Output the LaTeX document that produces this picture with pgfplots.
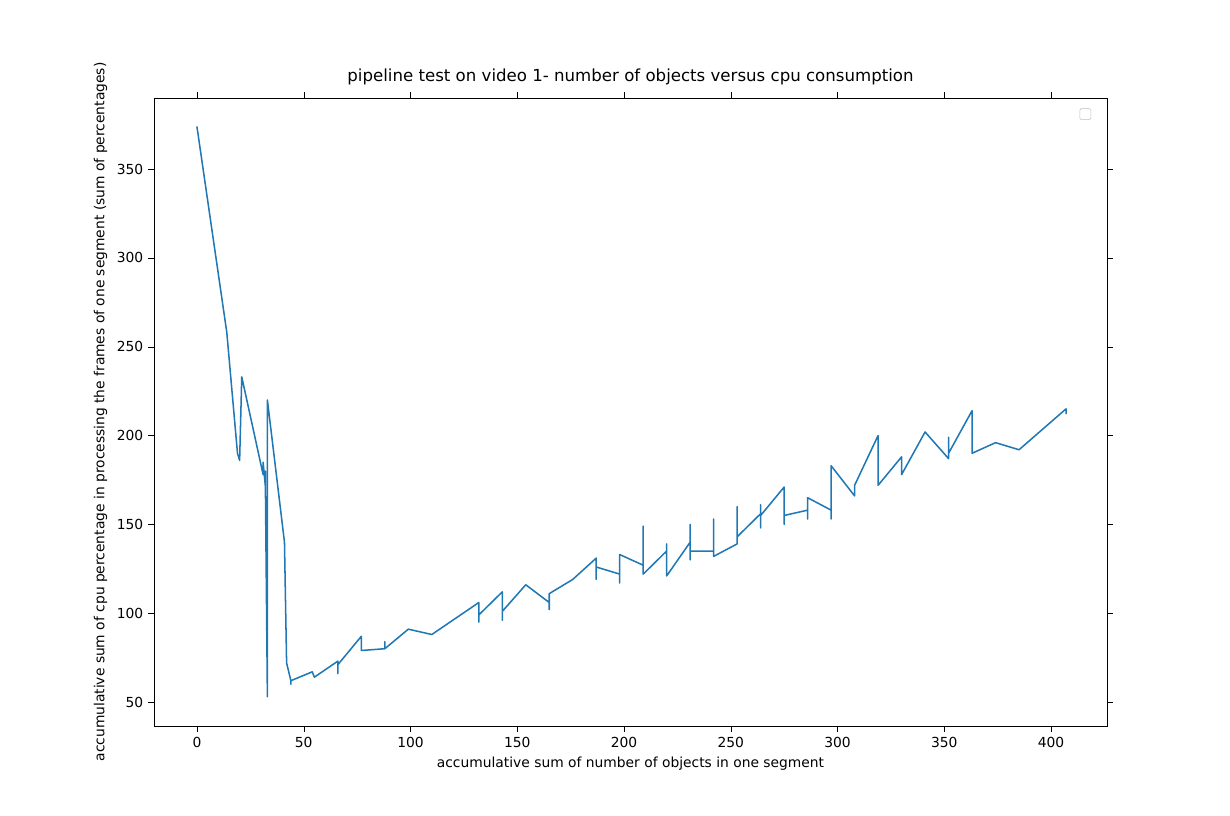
\documentclass[border=0pt]{standalone}
\usepackage{pgfplots}
\pgfplotsset{compat=1.18}
\usepackage{fontspec}
\setmainfont{DejaVu Sans}
\definecolor{c0}{HTML}{1F77B4}
\begin{document}
\begin{tikzpicture}
\path[use as bounding box] (-1.54in,-0.9in) rectangle (10.76in,7.26in);
\begin{axis}[scale only axis, width=9.53in, height=6.28in,
 xmin=-20.1, xmax=426.2, ymin=36.5, ymax=390,
 xtick={0,50,...,400}, ytick={50,100,...,350},
 tick align=outside, tick style={black}, font=\fontsize{10}{12}\selectfont,
 /pgf/number format/assume math mode=true,
 title={pipeline test on video 1- number of objects versus cpu consumption},
 title style={font=\fontsize{12}{14}\selectfont},
 xlabel={accumulative sum of number of objects in one segment},
 ylabel={accumulative sum of cpu percentage in processing the frames of one segment (sum of percentages)}]
\addplot[c0, line width=1.1pt, line join=round] coordinates {
(0,374)(14,258)(19,190)(20,186)(21,233)(23,222)(31,178)(31,185)(32,172)(32,180)(33,53)(33,220)(41,140)(42,72)(44,62)(44,60)
(44,62)(54,67)(55,64)(66,73)(66,66)(66,71)(77,87)(77,79)(88,80)(88,84)(88,80)(99,91)(110,88)(132,106)(132,95)(132,99)
(143,112)(143,96)(143,101)(154,116)(165,106)(165,102)(165,111)(176,119)(187,131)(187,119)(187,126)(198,122)(198,117)(198,133)
(209,127)(209,149)(209,122)(220,135)(220,139)(220,121)(231,140)(231,130)(231,150)(231,135)(242,135)(242,153)(242,132)
(253,139)(253,160)(253,143)(264,156)(264,161)(264,148)(264,155)(275,171)(275,150)(275,155)(286,158)(286,153)(286,165)
(297,158)(297,153)(297,183)(308,166)(308,172)(319,200)(319,172)(330,188)(330,178)(341,202)(352,187)(352,199)(352,190)
(363,214)(363,190)(374,196)(385,192)(407,215)(407,212)};
\draw[gray!50, rounded corners=1pt, fill=white] (rel axis cs:0.983,0.983) rectangle ++(-0.11in,-0.11in);
\end{axis}
\end{tikzpicture}
\end{document}
